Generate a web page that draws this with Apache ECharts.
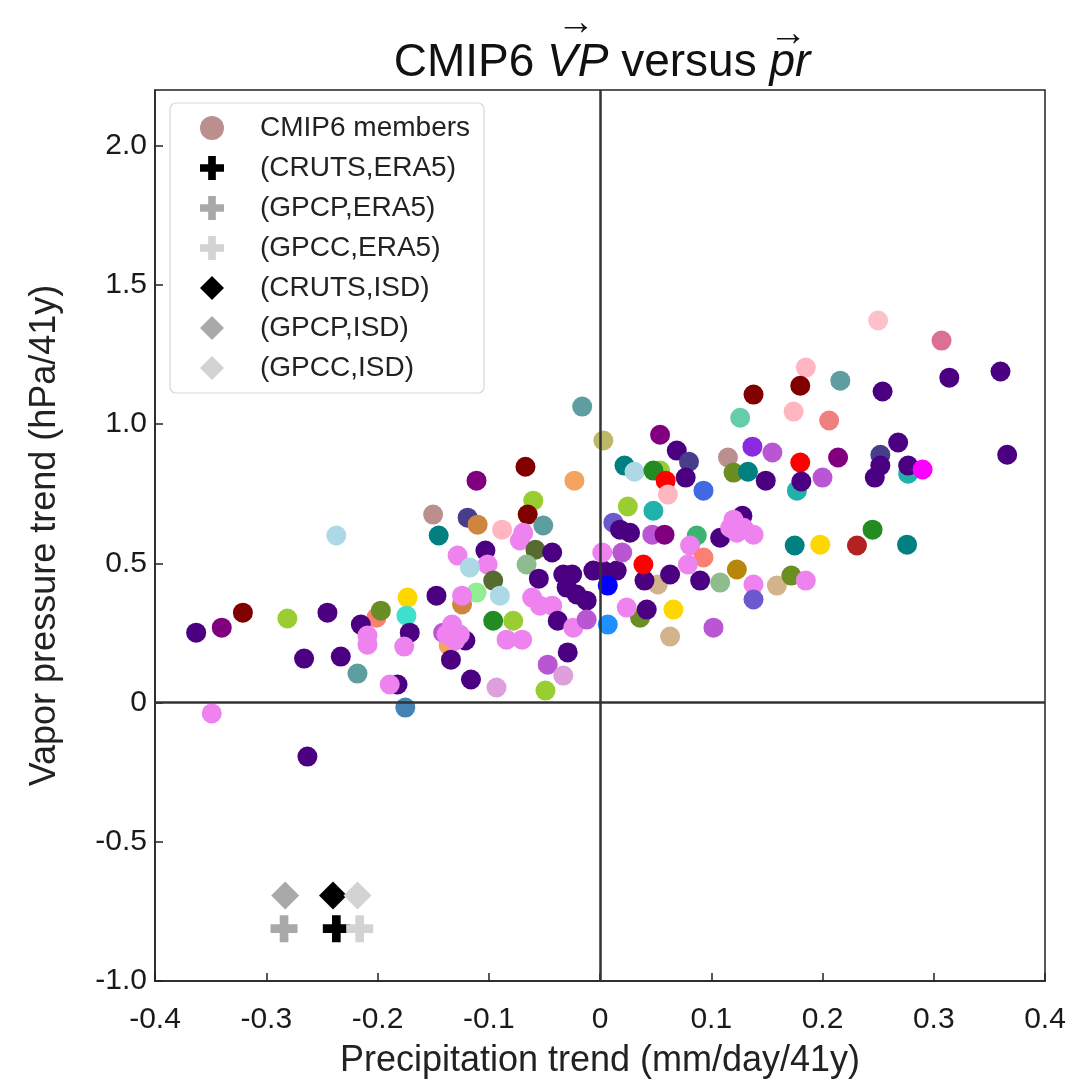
<!DOCTYPE html>
<html>
<head>
<meta charset="utf-8">
<script src="https://cdn.jsdelivr.net/npm/echarts@6/dist/echarts.min.js"></script>
<style>html,body{margin:0;padding:0;background:#fff}#c{width:1074px;height:1084px}</style>
</head>
<body>
<div id="c"></div>
<script>
// ---- data ----
const xTicks = [-0.4, -0.3, -0.2, -0.1, 0, 0.1, 0.2, 0.3, 0.4];
const yTicks = [-1.0, -0.5, 0, 0.5, 1.0, 1.5, 2.0];

const memberX = [
  -0.201, -0.124, -0.136, 0.054, 0.177, 0.277, 0.036, 0.052, -0.182,
  -0.363, -0.340, -0.321, -0.281, -0.245, -0.266, -0.233, -0.218, -0.215, -0.197,
  -0.173, -0.174, -0.171, -0.209, -0.209, -0.176, -0.189, -0.175, -0.349, -0.263,
  -0.237, -0.150, -0.145, -0.111, -0.067, -0.023, -0.119, -0.110, -0.060, -0.065,
  -0.051, -0.088, -0.069, -0.072, -0.058, -0.043, -0.066, -0.128, -0.103, -0.101,
  -0.117, -0.096, -0.111, -0.090, -0.147, -0.124, -0.055, -0.061, -0.054, -0.043,
  -0.033, -0.025, -0.030, -0.021, -0.012, -0.006, 0.003, 0.015, -0.038, -0.024,
  -0.012, -0.096, -0.078, -0.084, -0.070, -0.029, -0.047, -0.033, -0.049, -0.093,
  -0.116, -0.134, -0.121, -0.141, -0.133, -0.138, -0.126, -0.130, -0.016, 0.003,
  0.012, 0.018, 0.027, 0.002, 0.020, 0.022, 0.031, 0.048, 0.059, 0.061,
  0.093, 0.115, 0.120, 0.133, 0.137, 0.155, 0.149, 0.180, 0.181, 0.200,
  0.214, 0.268, 0.252, 0.252, 0.247, 0.277, 0.290, 0.366, 0.245, 0.231,
  0.276, 0.198, 0.175, 0.250, 0.307, 0.360, 0.314, 0.254, 0.216, 0.185,
  0.180, 0.138, 0.126, 0.174, 0.206, 0.054, 0.069, 0.080, 0.077, 0.025,
  0.048, 0.047, 0.058, 0.087, 0.108, 0.128, 0.120, 0.117, 0.129, 0.138,
  0.123, 0.081, 0.093, 0.079, 0.063, 0.040, 0.039, 0.090, 0.108, 0.123,
  0.138, 0.159, 0.172, 0.185, 0.007, 0.066, 0.063, 0.102, 0.138, 0.042,
  0.007, 0.024
];
const memberY = [
  0.305, 0.352, 0.205, 0.833, 0.761, 0.822, 0.305, 0.424, 0.065,
  0.251, 0.269, 0.323, 0.302, 0.323, 0.158, 0.165, 0.104, 0.280, 0.330,
  0.377, 0.312, 0.251, 0.241, 0.208, 0.201, 0.065, -0.018, -0.039, -0.194,
  0.600, 0.675, 0.600, 0.797, 0.847, 0.797, 0.664, 0.639, 0.725, 0.675,
  0.636, 0.621, 0.610, 0.582, 0.549, 0.539, 0.496, 0.528, 0.546, 0.496,
  0.485, 0.438, 0.395, 0.384, 0.384, 0.384, 0.445, 0.377, 0.348, 0.348,
  0.460, 0.460, 0.413, 0.388, 0.366, 0.474, 0.474, 0.474, 0.294, 0.269,
  0.298, 0.294, 0.294, 0.226, 0.226, 0.180, 0.136, 0.097, 0.043, 0.054,
  0.083, 0.154, 0.223, 0.251, 0.280, 0.244, 0.244, 0.223, 1.063, 0.941,
  0.646, 0.621, 0.610, 0.539, 0.539, 0.851, 0.829, 0.833, 0.797, 0.747,
  0.761, 0.880, 0.826, 0.829, 0.919, 0.898, 0.797, 0.862, 0.794, 0.808,
  0.880, 0.934, 0.890, 0.851, 0.808, 0.851, 0.837, 0.890, 0.621, 0.564,
  0.567, 0.567, 0.564, 1.372, 1.300, 1.189, 1.167, 1.117, 1.156, 1.203,
  1.138, 1.106, 1.023, 1.045, 1.013, 0.962, 0.905, 0.865, 0.808, 0.704,
  0.689, 0.603, 0.603, 0.600, 0.592, 0.671, 0.657, 0.628, 0.628, 0.603,
  0.610, 0.564, 0.521, 0.496, 0.460, 0.438, 0.496, 0.438, 0.431, 0.478,
  0.424, 0.420, 0.456, 0.438, 0.420, 0.334, 0.237, 0.269, 0.370, 0.334,
  0.280, 0.341
];
const memberColor = [
  'salmon', 'peru', 'sandybrown', 'yellowgreen', 'lightseagreen', 'lightseagreen', 'olivedrab', 'tan', 'indigo',
  'indigo', 'purple', 'maroon', 'yellowgreen', 'indigo', 'indigo', 'indigo', 'cadetblue', 'indigo', 'olivedrab',
  'gold', 'turquoise', 'indigo', 'violet', 'violet', 'violet', 'violet', 'steelblue', 'violet', 'indigo',
  'lightblue', 'rosybrown', 'teal', 'purple', 'maroon', 'sandybrown', 'darkslateblue', 'peru', 'yellowgreen', 'maroon',
  'cadetblue', 'lightpink', 'violet', 'violet', 'darkolivegreen', 'indigo', 'darkseagreen', 'violet', 'indigo', 'violet',
  'lightblue', 'darkolivegreen', 'lightgreen', 'lightblue', 'indigo', 'violet', 'indigo', 'violet', 'violet', 'violet',
  'indigo', 'indigo', 'indigo', 'indigo', 'indigo', 'indigo', 'indigo', 'indigo', 'indigo', 'violet',
  'mediumorchid', 'forestgreen', 'yellowgreen', 'violet', 'violet', 'indigo', 'mediumorchid', 'plum', 'yellowgreen', 'plum',
  'indigo', 'indigo', 'indigo', 'mediumorchid', 'violet', 'violet', 'violet', 'violet', 'cadetblue', 'darkkhaki',
  'slateblue', 'indigo', 'indigo', 'violet', 'mediumorchid', 'teal', 'lightblue', 'forestgreen', 'red', 'lightpink',
  'royalblue', 'rosybrown', 'olivedrab', 'teal', 'blueviolet', 'mediumorchid', 'indigo', 'red', 'indigo', 'mediumorchid',
  'purple', 'indigo', 'darkslateblue', 'indigo', 'indigo', 'indigo', 'magenta', 'indigo', 'forestgreen', 'firebrick',
  'teal', 'gold', 'teal', 'pink', 'palevioletred', 'indigo', 'indigo', 'indigo', 'cadetblue', 'lightpink',
  'maroon', 'maroon', 'mediumaquamarine', 'lightpink', 'lightcoral', 'purple', 'indigo', 'darkslateblue', 'indigo', 'yellowgreen',
  'lightseagreen', 'mediumorchid', 'purple', 'mediumseagreen', 'indigo', 'indigo', 'violet', 'violet', 'violet', 'violet',
  'violet', 'violet', 'salmon', 'violet', 'indigo', 'indigo', 'red', 'indigo', 'darkseagreen', 'darkgoldenrod',
  'violet', 'tan', 'olivedrab', 'violet', 'blue', 'gold', 'tan', 'mediumorchid', 'slateblue', 'indigo',
  'dodgerblue', 'violet'
];

const obsNames = ['(CRUTS,ERA5)', '(GPCP,ERA5)', '(GPCC,ERA5)', '(CRUTS,ISD)', '(GPCP,ISD)', '(GPCC,ISD)'];
const obsX = [-0.237, -0.284, -0.216, -0.240, -0.283, -0.218];
const obsY = [-0.812, -0.812, -0.812, -0.693, -0.693, -0.693];

// ---- styles ----
const palette = {
  indigo:'#4B0082', violet:'#EE82EE', purple:'#800080', maroon:'#800000', yellowgreen:'#9ACD32',
  cadetblue:'#5F9EA0', olivedrab:'#6B8E23', salmon:'#FA8072', gold:'#FFD700', turquoise:'#40E0D0',
  steelblue:'#4682B4', lightblue:'#ADD8E6', rosybrown:'#BC8F8F', teal:'#008080', sandybrown:'#F4A460',
  darkslateblue:'#483D8B', peru:'#CD853F', lightpink:'#FFB6C1', darkolivegreen:'#556B2F',
  darkseagreen:'#8FBC8F', lightgreen:'#90EE90', mediumorchid:'#BA55D3', forestgreen:'#228B22',
  plum:'#DDA0DD', darkkhaki:'#BDB76B', slateblue:'#6A5ACD', red:'#FF0000', royalblue:'#4169E1',
  blueviolet:'#8A2BE2', lightseagreen:'#20B2AA', pink:'#FFC0CB', palevioletred:'#DB7093',
  mediumaquamarine:'#66CDAA', lightcoral:'#F08080', mediumseagreen:'#3CB371', darkgoldenrod:'#B8860B',
  tan:'#D2B48C', blue:'#0000FF', dodgerblue:'#1E90FF', magenta:'#FF00FF', firebrick:'#B22222'
};
const obsColors = ['#000000', '#A9A9A9', '#D3D3D3', '#000000', '#A9A9A9', '#D3D3D3'];
const plusPath = 'path://M3.4,0H6.6V3.4H10V6.6H6.6V10H3.4V6.6H0V3.4H3.4Z';
const obsSymbols = [plusPath, plusPath, plusPath, 'diamond', 'diamond', 'diamond'];
const FONT = '"Liberation Sans", Arial, Helvetica, sans-serif';

// title layout (arrows placed above the italic parts)
const TITLE_SIZE = 46, TITLE_CX = 597, TITLE_TOP = 35;
const mctx = document.createElement('canvas').getContext('2d');
function tw(s, it) { mctx.font = (it ? 'italic ' : '') + TITLE_SIZE + 'px ' + FONT; return mctx.measureText(s).width; }
const wA = tw('CMIP6 ', false), wVP = tw('VP', true), wB = tw(' versus ', false), wPR = tw('pr', true);
const tStart = TITLE_CX - (wA + wVP + wB + wPR) / 2;
const vpC = tStart + wA + wVP / 2 + 3;
const prC = tStart + wA + wVP + wB + wPR / 2 + 3;

const chart = echarts.init(document.getElementById('c'), null, {renderer: 'canvas'});

const fmt = v => (Math.abs(v) < 1e-9 ? '0' : v.toFixed(1));

const memberData = memberX.map((x, i) => ({
  value: [x, memberY[i]],
  itemStyle: {color: palette[memberColor[i]]}
}));

const series = [
  {
    name: 'zero', type: 'scatter', data: [], z: 1, silent: true,
    markLine: {
      silent: true, symbol: 'none', label: {show: false}, animation: false,
      lineStyle: {color: '#333', width: 2.5, type: 'solid'},
      emphasis: {disabled: true},
      data: [{xAxis: 0}, {yAxis: 0}]
    }
  },
  {
    name: 'CMIP6 members', type: 'scatter', z: 2, symbol: 'circle', symbolSize: 20,
    itemStyle: {color: palette.rosybrown, opacity: 1},
    data: memberData
  }
];
obsNames.forEach((n, i) => {
  series.push({
    name: n, type: 'scatter', z: 3, symbol: obsSymbols[i],
    symbolSize: i < 3 ? 27 : 28,
    itemStyle: {color: obsColors[i], opacity: 1},
    data: [[obsX[i], obsY[i]]]
  });
});

chart.setOption({
  animation: false,
  backgroundColor: '#fff',
  textStyle: {fontFamily: FONT},
  title: {
    text: '{n|CMIP6 }{i|VP}{n| versus }{i|pr}',
    left: TITLE_CX, top: TITLE_TOP, textAlign: 'center',
    textStyle: {
      fontWeight: 'normal',
      rich: {
        n: {fontSize: TITLE_SIZE, fontFamily: FONT, fontWeight: 'normal', color: '#111'},
        i: {fontSize: TITLE_SIZE, fontFamily: FONT, fontWeight: 'normal', fontStyle: 'italic', color: '#111'}
      }
    }
  },
  grid: {left: 155, right: 29, top: 90, bottom: 101, show: true, borderColor: '#222', borderWidth: 1.5, containLabel: false},
  legend: {
    data: ['CMIP6 members'].concat(obsNames),
    orient: 'vertical', left: 170, top: 103,
    itemWidth: 24, itemHeight: 24, itemGap: 12,
    padding: [11, 14, 11, 30],
    backgroundColor: '#fff', borderColor: '#d8d8d8', borderWidth: 1.2, borderRadius: 6,
    textStyle: {fontSize: 28, fontFamily: FONT, color: '#222', padding: [0, 0, 0, 31]},
    selectedMode: false
  },
  xAxis: {
    type: 'value', min: -0.4, max: 0.4, interval: 0.1,
    name: 'Precipitation trend (mm/day/41y)', nameLocation: 'middle', nameGap: 62,
    nameTextStyle: {fontSize: 36, fontFamily: FONT, color: '#222'},
    axisLine: {show: true, onZero: false, lineStyle: {color: '#222', width: 1.5}},
    axisTick: {show: true, inside: true, length: 8, lineStyle: {color: '#222', width: 1.5}, customValues: xTicks},
    axisLabel: {fontSize: 30, fontFamily: FONT, color: '#1a1a1a', margin: 24, formatter: fmt, customValues: xTicks},
    splitLine: {show: false}
  },
  yAxis: {
    type: 'value', min: -1.0, max: 2.2,
    name: 'Vapor pressure trend (hPa/41y)', nameLocation: 'middle', nameGap: 92,
    nameTextStyle: {fontSize: 36, fontFamily: FONT, color: '#222'},
    axisLine: {show: true, onZero: false, lineStyle: {color: '#222', width: 1.5}},
    axisTick: {show: true, inside: true, length: 8, lineStyle: {color: '#222', width: 1.5}, customValues: yTicks},
    axisLabel: {fontSize: 30, fontFamily: FONT, color: '#1a1a1a', margin: 8, formatter: fmt, customValues: yTicks},
    splitLine: {show: false}
  },
  graphic: [
    {type: 'text', x: vpC, y: 24, style: {text: '\u2192', fontSize: 38, fontFamily: FONT, fill: '#111', align: 'center', verticalAlign: 'middle'}},
    {type: 'text', x: prC, y: 35, style: {text: '\u2192', fontSize: 38, fontFamily: FONT, fill: '#111', align: 'center', verticalAlign: 'middle'}}
  ],
  series: series
});
</script>
</body>
</html>
